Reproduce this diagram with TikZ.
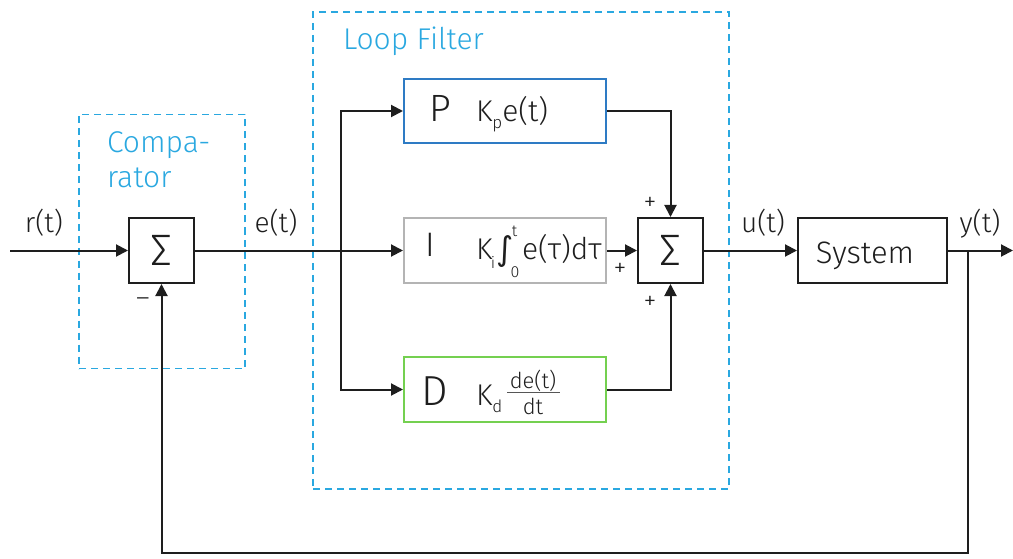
\documentclass[tikz,border=0pt]{standalone}
\usepackage{fontspec}
\setmainfont{Fira Sans Light}
\newfontfamily\symfont{DejaVu Sans}
\usetikzlibrary{arrows.meta}
\definecolor{dashblue}{HTML}{2AA8E0}
\definecolor{pblue}{HTML}{2E7BC4}
\definecolor{igray}{HTML}{B4B4B4}
\definecolor{dgreen}{HTML}{74D050}
\definecolor{ink}{HTML}{1E1E1E}
\newcommand{\fs}[1]{\fontsize{#1}{#1}\selectfont}
\begin{document}
\begin{tikzpicture}[x=1pt,y=-1pt,
  line width=2pt, draw=ink, text=ink,
  arr/.style={-{Triangle[length=12pt,width=12pt]}},
  blk/.style={draw, line width=2pt, inner sep=0pt},
  sumblk/.style={blk, minimum width=65pt, minimum height=65pt, font=\fs{44}},
  frame/.style={draw=dashblue, line width=1.8pt, dash pattern=on 7pt off 5pt, inner sep=0pt},
  grp/.style={text=dashblue, font=\fs{30}, anchor=base west, inner sep=0pt},
  sig/.style={font=\fs{28}, anchor=base, inner sep=0pt},
  sgn/.style={font=\fs{26}, inner sep=0pt},
  form/.style={font=\fs{30}, anchor=base west, inner sep=0pt},
  lim/.style={font=\fs{16}, inner sep=0pt}]
\useasboundingbox (0,0) rectangle (1013,559);

% dashed group frames
\node[frame, minimum width=166pt, minimum height=254pt] (comp) at (162,241.5) {};
\node[frame, minimum width=416pt, minimum height=477pt] (loop) at (521,250.5) {};
\node[grp] (compa) at (106,153) {Compa-};
\node[grp] (rator) at (106,188) {rator};
\node[grp] (looplbl) at (342,50) {Loop Filter};

% blocks
\node[sumblk] (s1) at (161.5,250.5) {Σ};
\node[blk, draw=pblue, minimum width=202pt, minimum height=64pt] (P) at (505,111) {};
\node[blk, draw=igray, minimum width=202pt, minimum height=64pt] (I) at (505,250.5) {};
\node[blk, draw=dgreen, minimum width=202pt, minimum height=65pt] (D) at (505,389.5) {};
\node[sumblk] (s2) at (670.5,250.5) {Σ};
\node[blk, minimum width=149pt, minimum height=64pt] (sys) at (872.5,250.5) {};
\node[font=\fs{31}, anchor=base, inner sep=0pt] (syslbl) at (865,263) {System};

% proportional branch
\node[font=\fs{38}, anchor=base, inner sep=0pt] (Pl) at (440,122) {P};
\node[form] (Pf) at (475,122) {K\lower7pt\hbox{\fs{17}p}e(t)};

% integral branch
\node[font=\fs{34}, anchor=base, inner sep=0pt] (Il) at (430,257) {I};
\node[form] (Ik) at (475,259) {K};
\node[lim, anchor=base] (Ii) at (493,268) {i};
\node[font=\symfont\fs{33}, inner sep=0pt] (Iint) at (505,252) {∫};
\node[lim] (Iup) at (514.5,231) {t};
\node[lim] (Ilo) at (515,272) {0};
\node[form] (Ie) at (521,259) {e(τ)dτ};

% derivative branch
\node[font=\fs{42}, anchor=base, inner sep=0pt] (Dl) at (435,405) {D};
\node[form] (Dk) at (475,405) {K\lower7pt\hbox{\fs{17}d}};
\node[font=\fs{22}, anchor=base, inner sep=0pt] (Dnum) at (533,388) {de(t)};
\node[font=\fs{22}, anchor=base, inner sep=0pt] (Dden) at (533,414) {dt};
\coordinate (fracL) at (507,392.5);
\coordinate (fracR) at (560,392.5);
\draw[line width=1.1pt, draw=ink!75] (fracL) -- (fracR);

% signal labels
\node[sig] (rl) at (44,233) {r(t)};
\node[sig] (el) at (276,233) {e(t)};
\node[sig] (ul) at (763,233) {u(t)};
\node[sig] (yl) at (980,233) {y(t)};
\node[sgn] (m1) at (143,302) {–};
\node[sgn] (p1) at (650,204) {+};
\node[sgn] (p2) at (620,270) {+};
\node[sgn] (p3) at (650,303) {+};

% signal flow
\coordinate (rin) at (10,250.5);
\coordinate (br) at (341,250.5);
\coordinate (yout) at (1013,250.5);
\coordinate (tap) at (968,250.5);
\coordinate (fb) at (968,553);
\draw[arr] (rin) -- (s1.west);
\draw[arr] (s1.east) -- (I.west);
\draw[arr] (br) |- (P.west);
\draw[arr] (br) |- (D.west);
\draw[arr] (P.east) -| (s2.north);
\draw[arr] (I.east) -- (s2.west);
\draw[arr] (D.east) -| (s2.south);
\draw[arr] (s2.east) -- (sys.west);
\draw[arr] (sys.east) -- (yout);
\draw[arr] (tap) -- (fb) -| (s1.south);
\end{tikzpicture}
\end{document}
